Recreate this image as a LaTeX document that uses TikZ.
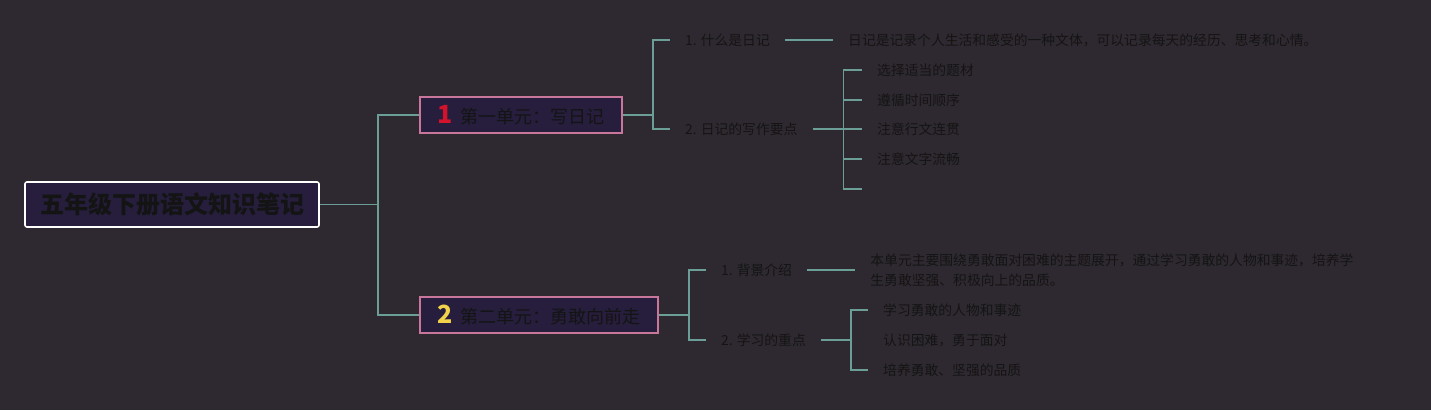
\documentclass[tikz,border=0pt]{standalone}
\usepackage{fontspec}
\setmainfont{Noto Sans CJK SC}
\usetikzlibrary{positioning}
\definecolor{bgdark}{HTML}{2E2930}
\definecolor{boxfill}{HTML}{261E3C}
\definecolor{boxpink}{HTML}{C8769A}
\definecolor{linkteal}{HTML}{6A9E96}
\definecolor{inkdark}{HTML}{141414}
\definecolor{numred}{HTML}{D3132C}
\definecolor{numyellow}{HTML}{F2D24A}
\tikzset{
    rootbox/.style={rectangle, rounded corners=2pt, draw=white, line width=1.6pt, fill=boxfill,
        minimum width=294pt, minimum height=45pt, text=inkdark, font=\fontsize{24}{28}\selectfont\bfseries},
    unitbox/.style={rectangle, draw=boxpink, line width=1.6pt, fill=boxfill, minimum height=36pt,
        inner xsep=18pt, text=inkdark, font=\fontsize{18}{20}\selectfont, anchor=west},
    leaf/.style={inner xsep=15pt, inner ysep=2pt, text=inkdark, font=\fontsize{13.8}{20}\selectfont, anchor=west},
    link/.style={draw=linkteal, line width=1.6pt}
}
\newcommand{\unitnum}[2]{{\color{#1}\fontsize{25}{25}\selectfont\bfseries #2}\hspace{7pt}}
\begin{document}
\begin{tikzpicture}[x=1pt, y=-1pt]
    \fill[bgdark] (0,0) rectangle (1431,410);
    \useasboundingbox (0,0) rectangle (1431,410);
    % Root
    \node[rootbox] (root) at (172,204.5) {五年级下册语文知识笔记};
    % Units
    \node[unitbox] (unit-1) at (419,115) {\unitnum{numred}{1}第一单元：写日记};
    \node[unitbox] (unit-2) at (419,315) {\unitnum{numyellow}{2}第二单元：勇敢向前走};
    \coordinate (j0) at (378,204.5);
    \draw[link] (root.east) -- (j0);
    \draw[link] (unit-1.west) -| (j0) |- (unit-2.west);
    % Unit 1
    \node[leaf] (u1-t1) at (670,40) {1. 什么是日记};
    \node[leaf] (u1-t2) at (670,129) {2. 日记的写作要点};
    \node[leaf, right=48pt of u1-t1] (u1-d1) {日记是记录个人生活和感受的一种文体，可以记录每天的经历、思考和心情。};
    \coordinate (j1) at ([xshift=30pt]unit-1.east);
    \draw[link] (unit-1.east) -- (j1);
    \draw[link] (u1-t1.west) -| (j1) |- (u1-t2.west);
    \draw[link] (u1-t1.east) -- (u1-d1.west);
    \foreach \y/\txt [count=\i] in {70/选择适当的题材, 100/遵循时间顺序, 129/注意行文连贯, 159/注意文字流畅} {
        \node[leaf] (u1-p\i) at (862,\y) {\txt};
    }
    \coordinate (u1-p5) at (862,189);
    \coordinate (j2) at ([xshift=31pt]u1-t2.east);
    \draw[link] (u1-t2.east) -- (j2);
    \draw[link] (u1-p1.west) -| (j2) |- (u1-p5);
    \foreach \i in {2,3,4} {
        \draw[link] (j2 |- u1-p\i.west) -- (u1-p\i.west);
    }
    % Unit 2
    \node[leaf] (u2-t1) at (706,270) {1. 背景介绍};
    \node[leaf] (u2-t2) at (706,340) {2. 学习的重点};
    \node[leaf, right=48pt of u2-t1, align=left] (u2-d1)
        {本单元主要围绕勇敢面对困难的主题展开，通过学习勇敢的人物和事迹，培养学\\生勇敢坚强、积极向上的品质。};
    \coordinate (j3) at ([xshift=30pt]unit-2.east);
    \draw[link] (unit-2.east) -- (j3);
    \draw[link] (u2-t1.west) -| (j3) |- (u2-t2.west);
    \draw[link] (u2-t1.east) -- (u2-d1.west);
    \foreach \y/\txt [count=\i] in {310/学习勇敢的人物和事迹, 340/认识困难，勇于面对, 370/培养勇敢、坚强的品质} {
        \node[leaf] (u2-p\i) at (868,\y) {\txt};
    }
    \coordinate (j4) at ([xshift=30pt]u2-t2.east);
    \draw[link] (u2-t2.east) -- (j4);
    \draw[link] (u2-p1.west) -| (j4) |- (u2-p3.west);
\end{tikzpicture}
\end{document}
